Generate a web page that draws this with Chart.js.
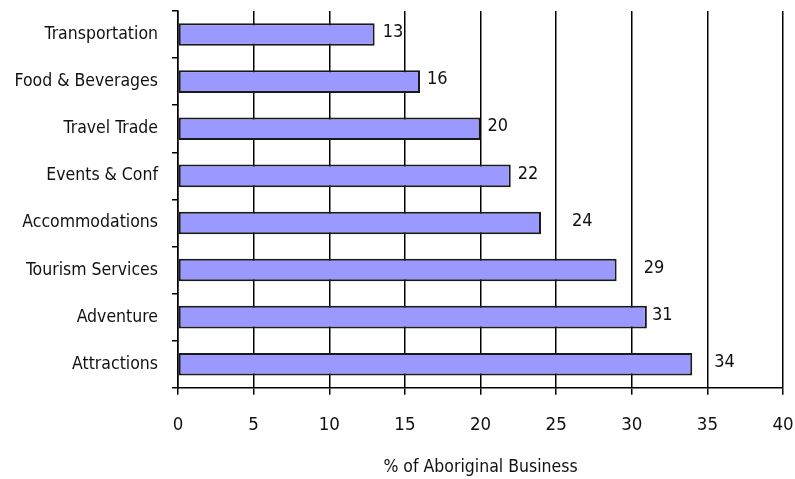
<!DOCTYPE html>
<html>
<head>
<meta charset="utf-8">
<script src="https://cdn.jsdelivr.net/npm/chart.js@4"></script>
<style>
  html, body { margin: 0; padding: 0; background: #fff; }
  #wrap { width: 795px; height: 479px; }
</style>
</head>
<body>
<div id="wrap"><canvas id="barChart"></canvas></div>
<script>
// HORIZONTAL BAR CHART

const categories = [
  "Transportation",
  "Food & Beverages",
  "Travel Trade",
  "Events & Conf",
  "Accommodations",
  "Tourism Services",
  "Adventure",
  "Attractions",
];
const values = [13, 16, 20, 22, 24, 29, 31, 34];
const xTicks = [0, 5, 10, 15, 20, 25, 30, 35, 40];

// label nudges (px) as placed in the original
const labelNudge = [8, 7, 7, 7, 31, 27, 5, 22];

const font = "'DejaVu Sans Condensed', 'Liberation Sans Narrow', Arial, sans-serif";

const valueLabels = {
  id: "valueLabels",
  afterDatasetsDraw(chart) {
    const ctx = chart.ctx;
    const meta = chart.getDatasetMeta(0);
    ctx.save();
    ctx.font = "18px " + font;
    ctx.fillStyle = "#111";
    ctx.textBaseline = "middle";
    ctx.textAlign = "left";
    meta.data.forEach((bar, i) => {
      ctx.fillText(String(values[i]), bar.x + labelNudge[i], bar.y - 2);
    });
    ctx.restore();
  },
};

new Chart(document.getElementById("barChart"), {
  type: "bar",
  data: {
    labels: categories,
    datasets: [
      {
        data: values,
        backgroundColor: "#9999ff",
        borderColor: "#1a1a1a",
        borderWidth: 2,
        borderSkipped: false,
        barPercentage: 0.48,
        categoryPercentage: 1,
      },
    ],
  },
  options: {
    indexAxis: "y",
    responsive: true,
    maintainAspectRatio: false,
    animation: false,
    layout: { padding: { top: 11, right: 12, left: 0, bottom: 0 } },
    plugins: { legend: { display: false }, tooltip: { enabled: false } },
    scales: {
      x: {
        min: 0,
        max: 40,
        afterBuildTicks: (s) => {
          s.ticks = xTicks.map((v) => ({ value: v }));
        },
        afterFit: (s) => {
          s.paddingLeft = 0;
          s.paddingRight = 0;
        },
        grid: { color: "#000", lineWidth: 1.5, tickLength: 7 },
        border: { color: "#000", width: 1.5 },
        ticks: { color: "#111", font: { family: font, size: 18.5 }, padding: 19 },
        title: {
          display: true,
          text: "% of Aboriginal Business",
          color: "#111",
          font: { family: font, size: 17.5 },
          padding: { top: 2, bottom: 1 },
        },
      },
      y: {
        afterFit: (s) => {
          s.width = 178;
          s.paddingTop = 0;
          s.paddingBottom = 0;
        },
        grid: { drawOnChartArea: false, color: "#000", lineWidth: 1.5, tickLength: 6 },
        border: { color: "#000", width: 1.5 },
        ticks: { color: "#111", font: { family: font, size: 17.5 }, padding: 14 },
      },
    },
  },
  plugins: [valueLabels],
});
</script>
</body>
</html>
